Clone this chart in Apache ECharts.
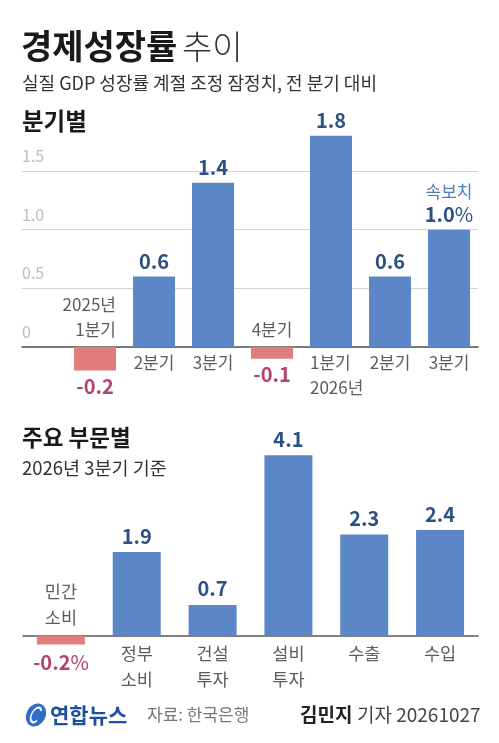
<!DOCTYPE html>
<html>
<head>
<meta charset="utf-8">
<script src="https://cdn.jsdelivr.net/npm/echarts@6/dist/echarts.min.js"></script>
<style>
  html, body { margin: 0; padding: 0; background: #fff; }
  #chart { width: 499px; height: 743px; }
</style>
</head>
<body>
<div id="chart"></div>
<script>
// 분기별 (quarterly)
var quarterCats = ['2025년\n1분기', '2분기', '3분기', '4분기', '1분기\n2026년', '2분기', '3분기'];
var quarterValues = [-0.2, 0.6, 1.4, -0.1, 1.8, 0.6, 1.0];
var quarterTicks = [0, 0.5, 1.0, 1.5];

// 주요 부문별 (by sector, 2026 Q3)
var sectorCats = ['민간\n소비', '정부\n소비', '건설\n투자', '설비\n투자', '수출', '수입'];
var sectorValues = [-0.2, 1.9, 0.7, 4.1, 2.3, 2.4];

var FONT = "'Noto Sans CJK KR', 'Noto Sans', sans-serif";
var BLUE = '#5b87c6';
var RED = '#e27d7d';
var VAL_BLUE = '#2b5083';
var VAL_RED = '#b5436b';

var chart = echarts.init(document.getElementById('chart'));

function valueRich() {
    return {
        v: { fontSize: 20, fontWeight: 'bold', color: VAL_BLUE, fontFamily: FONT },
        n: { fontSize: 20, fontWeight: 'bold', color: VAL_RED, fontFamily: FONT },
        pb: { fontSize: 20, color: VAL_BLUE, fontFamily: FONT },
        pr: { fontSize: 20, color: VAL_RED, fontFamily: FONT },
        note: { fontSize: 17, color: '#4d7cb8', fontFamily: FONT, lineHeight: 26 }
    };
}

// quarterly bars
var qBarData = quarterValues.map(function (v, i) {
    var last = i === quarterValues.length - 1;
    var txt;
    if (v < 0) txt = '{n|' + v.toFixed(1) + '}';
    else if (last) txt = '{note|속보치}\n{v|' + v.toFixed(1) + '}{pb|%}';
    else txt = '{v|' + v.toFixed(1) + '}';
    return {
        value: v,
        itemStyle: { color: v < 0 ? RED : BLUE },
        label: {
            show: true,
            position: v < 0 ? 'bottom' : 'top',
            distance: v < 0 ? 6 : 5,
            formatter: txt,
            rich: valueRich()
        }
    };
});

// quarterly category labels (above axis for negative bars)
var qCatData = quarterCats.map(function (c, i) {
    var neg = quarterValues[i] < 0;
    var lab = {
        show: true,
        position: neg ? 'top' : 'bottom',
        distance: neg ? 4 : 3,
        formatter: c,
        fontSize: 17,
        lineHeight: 25,
        color: '#333',
        fontFamily: FONT
    };
    if (c.indexOf('\n') >= 0) {
        if (neg) { lab.align = 'right'; lab.offset = [21, 0]; }
        else { lab.align = 'left'; lab.offset = [-21, 0]; }
    }
    return { value: 0, label: lab };
});

// sector bars
var sBarData = sectorValues.map(function (v) {
    var txt = v < 0 ? '{n|' + v.toFixed(1) + '}{pr|%}' : '{v|' + v.toFixed(1) + '}';
    return {
        value: v,
        itemStyle: { color: v < 0 ? RED : BLUE },
        label: {
            show: true,
            position: v < 0 ? 'bottom' : 'top',
            distance: v < 0 ? 8 : 6,
            formatter: txt,
            rich: valueRich()
        }
    };
});

var sCatData = sectorCats.map(function (c, i) {
    var neg = sectorValues[i] < 0;
    return {
        value: 0,
        label: {
            show: true,
            position: neg ? 'top' : 'bottom',
            distance: neg ? 5 : 4,
            formatter: c,
            fontSize: 17.5,
            lineHeight: 26,
            color: '#333',
            fontFamily: FONT
        }
    };
});

var option = {
    backgroundColor: '#fff',
    animation: false,
    grid: [
        { left: 22, right: 21, top: 112.33, height: 293.33 },
        { left: 65.5, right: 20.5, top: 112.33, height: 293.33 },
        { left: 23, right: 21, top: 437.7, height: 220 }
    ],
    xAxis: [
        {
            gridIndex: 0, type: 'value', min: 0, max: 1,
            axisLine: { show: true, lineStyle: { color: '#555', width: 1.5 } },
            axisTick: { show: false }, axisLabel: { show: false }, splitLine: { show: false }
        },
        {
            gridIndex: 1, type: 'category', data: quarterCats,
            axisLine: { show: false }, axisTick: { show: false }, axisLabel: { show: false }
        },
        {
            gridIndex: 2, type: 'category', data: sectorCats,
            axisLine: { show: true, lineStyle: { color: '#555', width: 1.5 } },
            axisTick: { show: false }, axisLabel: { show: false }
        }
    ],
    yAxis: [
        {
            gridIndex: 0, type: 'value', min: -0.5, max: 2, interval: 0.5,
            axisLine: { show: false }, axisTick: { show: false },
            splitLine: { show: true, showMinLine: false, showMaxLine: false, lineStyle: { color: '#d4d4d4', width: 1 } },
            axisLabel: {
                inside: true, margin: 0,
                verticalAlign: 'bottom', padding: [0, 0, 7, 0],
                color: '#bcbcbc', fontSize: 16, fontFamily: FONT,
                formatter: function (v) {
                    for (var i = 0; i < quarterTicks.length; i++) {
                        if (Math.abs(quarterTicks[i] - v) < 1e-6) return v === 0 ? '0' : v.toFixed(1);
                    }
                    return '';
                }
            }
        },
        { gridIndex: 1, type: 'value', min: -0.5, max: 2, show: false, splitLine: { show: false } },
        { gridIndex: 2, type: 'value', min: -0.5, max: 4.5, show: false, splitLine: { show: false } }
    ],
    series: [
        { type: 'bar', xAxisIndex: 1, yAxisIndex: 1, barWidth: 42, data: qBarData },
        {
            type: 'scatter', xAxisIndex: 1, yAxisIndex: 1, symbolSize: 1, silent: true,
            itemStyle: { color: 'rgba(0,0,0,0)' }, data: qCatData
        },
        { type: 'bar', xAxisIndex: 2, yAxisIndex: 2, barWidth: 48, data: sBarData },
        {
            type: 'scatter', xAxisIndex: 2, yAxisIndex: 2, symbolSize: 1, silent: true,
            itemStyle: { color: 'rgba(0,0,0,0)' }, data: sCatData
        }
    ],
    graphic: [
        { type: 'text', x: 21, y: 46, style: { text: '경제성장률', fontSize: 34, fontWeight: 'bold', fontFamily: FONT, fill: '#1a1a1a', verticalAlign: 'middle' } },
        { type: 'text', x: 182, y: 46, style: { text: '추이', fontSize: 33, fontWeight: 300, fontFamily: FONT, fill: '#333', verticalAlign: 'middle' } },
        { type: 'text', x: 22, y: 83, style: { text: '실질 GDP 성장률 계절 조정 잠정치, 전 분기 대비', fontSize: 18, fontFamily: FONT, fill: '#333', verticalAlign: 'middle' } },
        { type: 'text', x: 22, y: 121, style: { text: '분기별', fontSize: 23.5, fontWeight: 'bold', fontFamily: FONT, fill: '#1a1a1a', verticalAlign: 'middle' } },
        { type: 'text', x: 22, y: 437, style: { text: '주요 부문별', fontSize: 22.5, fontWeight: 'bold', fontFamily: FONT, fill: '#1a1a1a', verticalAlign: 'middle' } },
        { type: 'text', x: 22, y: 468, style: { text: '2026년 3분기 기준', fontSize: 18.5, fontFamily: FONT, fill: '#333', verticalAlign: 'middle' } },
        // footer
        { type: 'circle', x: 36, y: 715, scaleX: 0.8, rotation: -0.5, shape: { r: 12 }, style: { fill: '#2f6ec6' } },
        { type: 'arc', x: 36, y: 715, scaleX: 0.55, rotation: -0.5, shape: { r: 8, startAngle: 0.6, endAngle: 5.4 }, style: { stroke: '#fff', lineWidth: 2.5, fill: null } },
        { type: 'text', x: 50, y: 715, style: { text: '연합뉴스', fontSize: 21, fontWeight: 'bold', fontFamily: FONT, fill: '#1d4f9f', verticalAlign: 'middle' } },
        { type: 'text', x: 147, y: 715, style: { text: '자료: 한국은행', fontSize: 17, fontFamily: FONT, fill: '#777', verticalAlign: 'middle' } },
        { type: 'text', x: 300, y: 715, style: { text: '김민지', fontSize: 19, fontWeight: 'bold', fontFamily: FONT, fill: '#222', verticalAlign: 'middle' } },
        { type: 'text', x: 357, y: 715, style: { text: '기자 20261027', fontSize: 19, fontFamily: FONT, fill: '#444', verticalAlign: 'middle' } }
    ]
};

chart.setOption(option);
window.onresize = function () {
    chart.resize();
};
</script>
</body>
</html>
